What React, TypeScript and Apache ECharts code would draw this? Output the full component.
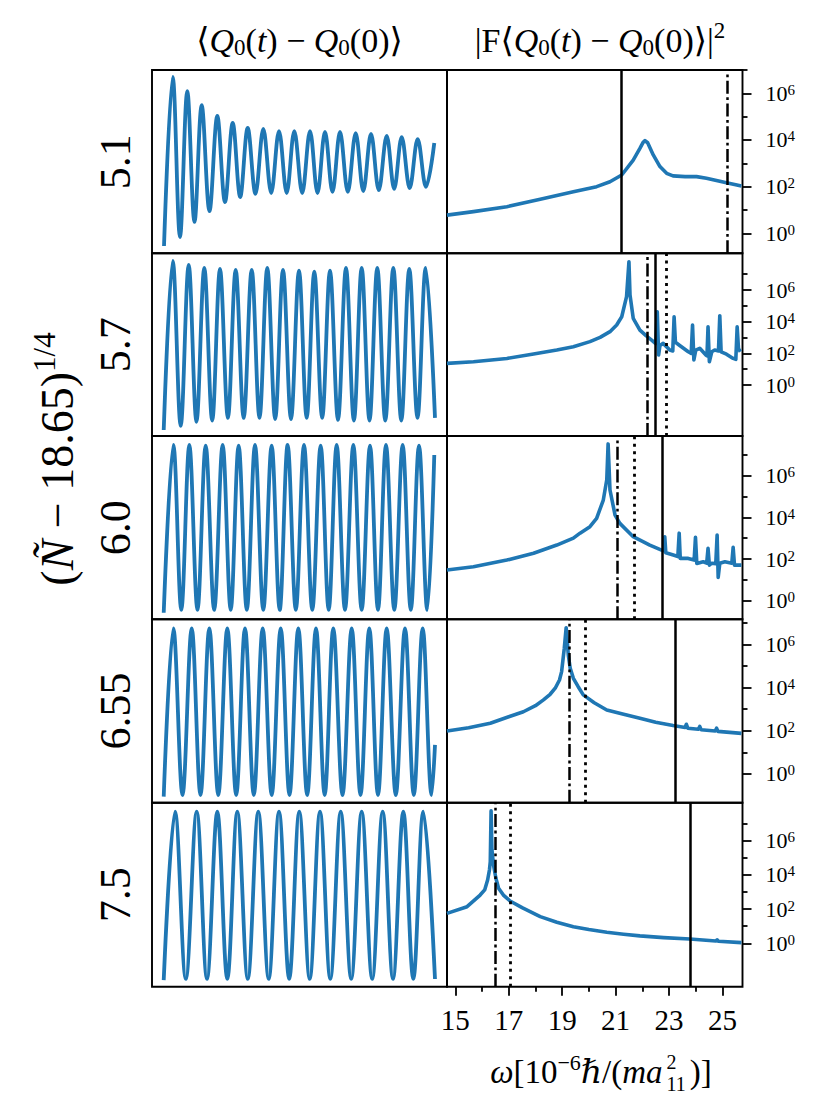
import React, { useEffect, useRef } from "react";
import * as echarts from "echarts";

const FONT = "'Liberation Serif', 'DejaVu Serif', serif";
const BLUE = "#1f77b4";

const rowLabels = ["5.1", "5.7", "6.0", "6.55", "7.5"];

// <Q0(t) - Q0(0)>: turning points [time, value] (arbitrary units, 0-100 across each panel)
const osc51 = [
  [4.07, 4.0], [7.02, 96.2], [9.49, 8.9], [11.97, 88.5], [14.41, 17.1], [16.85, 80.8], [19.49, 23.0],
  [22.14, 74.9], [24.75, 28.0], [27.36, 71.1], [29.9, 30.7], [32.44, 68.4], [35.08, 32.4], [37.73, 67.8],
  [40.41, 32.9], [43.05, 66.7], [45.66, 32.9], [48.24, 66.7], [50.92, 32.9], [53.56, 66.7], [56.1, 32.9],
  [58.64, 66.2], [61.19, 33.5], [63.73, 66.2], [66.37, 33.5], [69.05, 65.6], [71.63, 34.0], [74.24, 65.1],
  [76.88, 34.5], [79.56, 64.0], [82.1, 35.1], [84.64, 63.4], [87.36, 35.6], [90.07, 62.3], [92.88, 36.2],
  [95.69, 60.2],
];
const osc57 = [
  [3.97, 3.3], [7.02, 95.9], [9.73, 5.5], [12.44, 93.6], [15.08, 7.8], [17.73, 92.0], [20.41, 8.4],
  [23.05, 91.4], [25.73, 9.9], [28.37, 90.9], [31.08, 9.9], [33.8, 90.9], [36.44, 9.9], [39.08, 92.0],
  [41.76, 9.3], [44.41, 90.9], [47.12, 9.3], [49.83, 90.5], [52.44, 9.9], [55.02, 89.9], [57.69, 9.9],
  [60.34, 90.5], [63.05, 8.8], [65.76, 92.0], [68.44, 8.4], [71.08, 92.0], [73.73, 8.4], [76.37, 92.0],
  [79.08, 8.4], [81.8, 92.0], [84.51, 8.4], [87.22, 91.4], [90.0, 9.9], [92.78, 92.0], [95.93, 9.9],
];
const osc60 = [
  [3.97, 3.6], [7.23, 95.1], [9.93, 5.1], [12.66, 95.1], [15.42, 5.1], [18.2, 94.8], [21.08, 5.1],
  [23.95, 95.1], [26.68, 5.1], [29.37, 94.8], [32.14, 5.1], [34.92, 95.1], [37.73, 5.1], [40.56, 94.8],
  [43.29, 5.1], [45.98, 95.1], [48.75, 5.1], [51.53, 95.1], [54.34, 5.1], [57.17, 94.8], [59.9, 5.1],
  [62.6, 95.1], [65.42, 5.1], [68.25, 95.1], [71.08, 5.1], [73.9, 94.8], [76.61, 5.1], [79.32, 95.1],
  [82.14, 5.1], [84.97, 95.1], [87.73, 5.1], [90.51, 94.8], [93.3, 5.1], [95.69, 89.6],
];
const osc655 = [
  [3.97, 3.3], [7.23, 95.1], [10.34, 4.2], [13.46, 95.1], [16.44, 4.2], [19.44, 95.1], [22.47, 4.2],
  [25.53, 95.1], [28.54, 4.2], [31.53, 95.1], [34.51, 4.2], [37.53, 95.1], [40.58, 4.2], [43.63, 95.1],
  [46.61, 4.2], [49.6, 95.1], [52.61, 4.2], [55.59, 95.1], [58.54, 4.2], [61.46, 95.1], [64.58, 4.2],
  [67.69, 95.1], [70.68, 4.2], [73.66, 95.1], [76.61, 4.2], [79.56, 95.1], [82.64, 4.2], [85.76, 95.1],
  [88.75, 4.2], [91.76, 95.1], [94.78, 4.2], [95.93, 31.5],
];
const osc75 = [
  [3.97, 3.6], [7.8, 95.1], [11.46, 4.2], [15.15, 95.1], [18.64, 4.2], [22.14, 95.1], [25.53, 4.2],
  [28.92, 95.1], [32.47, 4.2], [36.03, 95.1], [39.56, 4.2], [43.05, 95.1], [46.51, 4.2], [49.93, 95.1],
  [53.46, 4.2], [56.95, 95.1], [60.44, 4.2], [63.97, 95.1], [67.53, 4.2], [71.08, 95.1], [74.64, 4.2],
  [78.2, 95.1], [81.69, 4.2], [85.19, 95.1], [88.58, 4.2], [91.97, 95.1], [95.93, 4.2],
];

// |F<Q0(t)-Q0(0)>|^2 : [omega, log10(power)]
const spec51 = [
  [14.69, 0.78], [15.68, 0.93], [16.93, 1.14], [18.18, 1.46], [19.42, 1.78], [20.29, 2.0], [20.79, 2.21],
  [21.23, 2.5], [21.66, 3.14], [21.91, 3.64], [22.03, 3.9], [22.1, 3.97], [22.2, 3.88], [22.41, 3.36],
  [22.66, 2.86], [22.91, 2.57], [23.15, 2.46], [23.6, 2.43], [24.03, 2.43], [24.4, 2.36], [25.15, 2.17],
  [25.71, 2.03],
];
const spec57 = [
  [14.69, 1.37], [15.68, 1.47], [16.93, 1.68], [17.93, 1.96], [18.8, 2.21], [19.42, 2.42], [20.04, 2.74],
  [20.42, 3.01], [20.79, 3.37], [21.04, 3.79], [21.23, 4.31], [21.41, 5.58], [21.5, 7.79], [21.54, 5.68],
  [21.66, 4.21], [21.91, 3.47], [22.15, 3.1], [22.35, 2.84], [22.5, 2.62], [22.56, 4.63], [22.61, 1.9],
  [22.66, 2.5], [22.78, 2.63], [23.03, 2.21], [23.14, 2.15], [23.19, 4.31], [23.24, 2.7], [23.4, 2.5],
  [23.72, 2.1], [23.83, 2.0], [23.88, 3.79], [23.93, 1.58], [24.0, 2.2], [24.15, 2.32], [24.38, 1.9],
  [24.42, 1.85], [24.46, 3.68], [24.51, 1.47], [24.6, 2.1], [24.71, 2.21], [24.85, 2.15], [24.9, 4.38],
  [24.95, 2.1], [25.15, 1.95], [25.4, 1.68], [25.5, 1.62], [25.55, 3.68], [25.6, 2.3], [25.67, 2.1],
];
const spec60 = [
  [14.69, 1.47], [15.68, 1.63], [16.93, 1.95], [17.93, 2.28], [18.8, 2.67], [19.42, 3.0], [19.67, 3.24],
  [20.04, 3.55], [20.29, 3.95], [20.54, 4.83], [20.67, 5.8], [20.72, 7.52], [20.79, 5.31], [20.98, 4.11],
  [21.16, 3.71], [21.66, 3.07], [22.28, 2.67], [22.72, 2.43], [22.8, 2.4], [22.84, 3.07], [22.88, 2.3],
  [23.16, 2.19], [23.33, 2.12], [23.38, 3.24], [23.42, 2.03], [23.72, 2.03], [23.94, 1.95], [23.99, 3.04],
  [24.04, 1.79], [24.28, 1.87], [24.41, 1.8], [24.46, 2.51], [24.51, 1.71], [24.6, 1.8], [24.75, 1.78],
  [24.8, 3.15], [24.84, 1.12], [24.9, 1.8], [25.09, 1.87], [25.35, 1.8], [25.4, 2.56], [25.45, 1.71],
  [25.71, 1.71],
];
const spec655 = [
  [14.69, 1.99], [15.5, 2.14], [16.31, 2.35], [17.0, 2.65], [17.55, 2.88], [18.0, 3.16], [18.3, 3.43],
  [18.55, 3.69], [18.74, 3.97], [18.9, 4.35], [18.98, 4.74], [19.08, 5.82], [19.15, 6.77], [19.23, 5.51],
  [19.3, 4.9], [19.42, 4.43], [19.6, 4.04], [19.79, 3.66], [20.2, 3.3], [20.67, 2.96], [21.3, 2.76],
  [21.91, 2.58], [22.5, 2.39], [23.15, 2.24], [23.6, 2.15], [23.65, 2.3], [23.7, 2.12], [24.1, 2.07],
  [24.15, 2.2], [24.2, 2.05], [24.73, 1.99], [24.78, 2.12], [24.83, 1.97], [25.71, 1.88],
];
const spec75 = [
  [14.69, 1.75], [15.44, 2.14], [15.93, 2.82], [16.1, 3.12], [16.21, 3.7], [16.28, 4.3], [16.31, 4.77],
  [16.34, 7.74], [16.37, 5.5], [16.43, 4.58], [16.52, 3.8], [16.62, 3.22], [16.8, 2.82], [17.05, 2.47],
  [17.5, 2.08], [18.18, 1.56], [18.8, 1.23], [19.42, 0.97], [20.0, 0.8], [20.67, 0.64], [21.3, 0.53],
  [21.91, 0.43], [22.8, 0.33], [23.78, 0.25], [24.75, 0.13], [24.8, 0.2], [24.85, 0.12], [25.71, 0.04],
];

const oscRows = [osc51, osc57, osc60, osc655, osc75];
const specRows = [spec51, spec57, spec60, spec655, spec75];

// log10 axis extents of each spectrum panel
const logMin = [-0.857, -3.22, -0.89, -1.33, -2.54];
const logMax = [7.0, 8.32, 7.9, 7.16, 8.22];

// vertical reference lines (omega)
const solidLines = [21.23, 22.47, 22.76, 23.23, 23.8];
const dashDotLines = [25.17, 22.18, 21.08, 19.27, 16.49];
const dottedLines: (number | null)[] = [null, 22.91, 21.7, 19.86, 17.05];

const omegaTicks = [15, 17, 19, 21, 23, 25];
const omegaMinorTicks = [16, 18, 20, 22, 24];
const powerTicks = [0, 2, 4, 6];
const powerMinorTicks = [1, 3, 5, 7];
const OMEGA_MIN = 14.69;
const OMEGA_MAX = 25.75;

// layout
const ROW_TOP = [70, 253.3, 436, 619.3, 802.7];
const ROW_H = [183.3, 182.7, 183.3, 183.4, 184];
const LEFT_X = 152;
const LEFT_W = 295;
const RIGHT_X = 447;
const RIGHT_W = 295.5;

const rs = (size: number, extra: any = {}) => ({
  fontFamily: FONT,
  fontSize: size,
  fill: "#000",
  color: "#000",
  ...extra,
});

const textEl = (
  x: number,
  y: number,
  text: string,
  rich: any,
  size: number,
  rotation = 0,
  align = "center",
  extra: any = {}
) => ({
  type: "text",
  x,
  y,
  rotation,
  z: 100,
  silent: true,
  style: {
    text,
    rich,
    align,
    verticalAlign: "middle",
    fill: "#000",
    fontFamily: FONT,
    fontSize: size,
    ...extra,
  },
});

let measureCtx: CanvasRenderingContext2D | null = null;
function textWidth(s: string, size: number, italic = false): number {
  if (!measureCtx) measureCtx = document.createElement("canvas").getContext("2d");
  if (!measureCtx) return s.length * size * 0.5;
  measureCtx.font = `${italic ? "italic " : ""}${size}px ${FONT}`;
  return measureCtx.measureText(s).width;
}

function buildOption() {
  const grid: any[] = [];
  const xAxis: any[] = [];
  const yAxis: any[] = [];
  const series: any[] = [];
  const tickLine = { color: "#000", width: 1.8 };

  for (let i = 0; i < 5; i++) {
    const gBase = {
      top: ROW_TOP[i],
      height: ROW_H[i],
      show: true,
      borderColor: "#000",
      borderWidth: 1.9,
      backgroundColor: "transparent",
      containLabel: false,
      outerBoundsMode: "none",
    };
    grid.push({ ...gBase, left: LEFT_X, width: LEFT_W });
    grid.push({ ...gBase, left: RIGHT_X, width: RIGHT_W });

    const isBottom = i === 4;
    xAxis.push({ type: "value", gridIndex: 2 * i, min: 0, max: 100, show: false });
    xAxis.push({
      type: "value",
      gridIndex: 2 * i + 1,
      position: "bottom",
      min: OMEGA_MIN,
      max: OMEGA_MAX,
      axisLine: { show: false, onZero: false },
      splitLine: { show: false },
      axisTick: { show: isBottom, customValues: omegaTicks, length: 9, lineStyle: tickLine },
      axisLabel: {
        show: isBottom,
        customValues: omegaTicks,
        color: "#000",
        fontFamily: FONT,
        fontSize: 29,
        margin: 19,
      },
    });

    yAxis.push({ type: "value", gridIndex: 2 * i, min: 0, max: 100, show: false });
    yAxis.push({
      type: "value",
      gridIndex: 2 * i + 1,
      position: "right",
      min: logMin[i],
      max: logMax[i],
      axisLine: { show: false, onZero: false },
      splitLine: { show: false },
      axisTick: { show: true, customValues: powerTicks, length: 9, lineStyle: tickLine },
      axisLabel: {
        show: true,
        customValues: powerTicks,
        margin: 23,
        formatter: (v: number) => `{b|10}{s|${v}}`,
        rich: {
          b: rs(22, { lineHeight: 22, padding: [5, 0, 0, 0], verticalAlign: "bottom" }),
          s: rs(15, { lineHeight: 15, verticalAlign: "top" }),
        },
      },
    });
    yAxis.push({
      type: "value",
      gridIndex: 2 * i + 1,
      position: "right",
      min: logMin[i],
      max: logMax[i],
      axisLine: { show: false, onZero: false },
      splitLine: { show: false },
      axisTick: {
        show: true,
        customValues: powerMinorTicks.filter((v) => v >= logMin[i] && v <= logMax[i]),
        length: 5,
        lineStyle: tickLine,
      },
      axisLabel: { show: false },
    });

    series.push({
      type: "line",
      xAxisIndex: 2 * i,
      yAxisIndex: 3 * i,
      data: oscRows[i],
      showSymbol: false,
      smooth: 0.36,
      silent: true,
      lineStyle: { color: BLUE, width: 3.8 },
    });

    const markData: any[] = [
      { xAxis: solidLines[i], lineStyle: { color: "#000", width: 2.5, type: "solid" } },
      { xAxis: dashDotLines[i], lineStyle: { color: "#000", width: 2.5, type: [13, 3.5, 2.8, 3.5] } },
    ];
    const d = dottedLines[i];
    if (d != null) markData.push({ xAxis: d, lineStyle: { color: "#000", width: 2.8, type: [3, 4.5] } });

    series.push({
      type: "line",
      xAxisIndex: 2 * i + 1,
      yAxisIndex: 3 * i + 1,
      data: specRows[i],
      showSymbol: false,
      silent: true,
      lineStyle: { color: BLUE, width: 3.6, join: "round" },
      markLine: {
        silent: true,
        symbol: ["none", "none"],
        label: { show: false },
        emphasis: { disabled: true },
        data: markData,
      },
    });
  }

  xAxis.push({
    type: "value",
    gridIndex: 9,
    position: "bottom",
    min: OMEGA_MIN,
    max: OMEGA_MAX,
    axisLine: { show: false, onZero: false },
    splitLine: { show: false },
    axisTick: { show: true, customValues: omegaMinorTicks, length: 5, lineStyle: tickLine },
    axisLabel: { show: false },
  });

  const titleRich = {
    a: rs(34, { lineHeight: 42 }),
    i: rs(34, { fontStyle: "italic", lineHeight: 42 }),
    u: rs(23, { lineHeight: 23, padding: [0, 0, 2, 0], verticalAlign: "bottom" }),
    s: rs(23, { lineHeight: 23, verticalAlign: "top" }),
  };
  const bigRich = {
    a: rs(46, { lineHeight: 56 }),
    i: rs(46, { fontStyle: "italic", lineHeight: 56 }),
    s: rs(31, { lineHeight: 31, verticalAlign: "top" }),
  };

  // x-axis name: omega[10^-6 hbar/(m a_11^2)], built from pieces so that 2 sits above 11
  const XS = 33;
  const XSS = 20;
  const xRich = {
    a: rs(XS, { lineHeight: 42 }),
    i: rs(XS, { fontStyle: "italic", lineHeight: 42 }),
    s: rs(22, { lineHeight: 22, verticalAlign: "top" }),
  };
  const wA =
    textWidth("ω", XS, true) +
    textWidth("[10", XS) +
    textWidth("−6", 22) +
    textWidth("ℏ", XS, true) +
    textWidth("/(", XS) +
    textWidth("ma", XS, true);
  const wScript = Math.max(textWidth("2", XSS), textWidth("11", XSS));
  const wD = textWidth(")]", XS);
  const GAP = 4;
  const xStart = 601 - (wA + GAP + wScript + GAP + wD) / 2;
  const yName = 1072;

  const graphic: any[] = [
    textEl(299.5, 40, "{a|⟨}{i|Q}{u|0}{a|(}{i|t}{a|) − }{i|Q}{u|0}{a|(0)⟩}", titleRich, 34),
    textEl(600, 40, "{a||F⟨}{i|Q}{u|0}{a|(}{i|t}{a|) − }{i|Q}{u|0}{a|(0)⟩|}{s|2}", titleRich, 34),
    textEl(57, 459, "{a|(}{i|Ñ}{a| − 18.65)}{s|1/4}", bigRich, 46, Math.PI / 2),
    textEl(xStart, yName, "{i|ω}{a|[10}{s|−6}{i|ℏ}{a|/(}{i|ma}", xRich, XS, 0, "left"),
    textEl(xStart + wA + GAP, yName - 10.5, "2", undefined, XSS, 0, "left", { lineHeight: 16 }),
    textEl(xStart + wA + GAP, yName + 11.5, "11", undefined, XSS, 0, "left", { lineHeight: 16 }),
    textEl(xStart + wA + GAP + wScript + GAP, yName, ")]", undefined, XS, 0, "left", { lineHeight: 42 }),
  ];
  for (let i = 0; i < 5; i++) {
    graphic.push(textEl(115, ROW_TOP[i] + ROW_H[i] / 2, rowLabels[i], undefined, 44, Math.PI / 2));
  }

  return {
    animation: false,
    backgroundColor: "#fff",
    grid,
    xAxis,
    yAxis,
    series,
    graphic,
  };
}

export default function App() {
  const ref = useRef<HTMLDivElement>(null);
  useEffect(() => {
    document.body.style.margin = "0";
    const chart = echarts.init(ref.current as HTMLDivElement, null, { renderer: "svg" });
    chart.setOption(buildOption() as any);
    return () => chart.dispose();
  }, []);
  return <div ref={ref} style={{ width: 832, height: 1117 }} />;
}
